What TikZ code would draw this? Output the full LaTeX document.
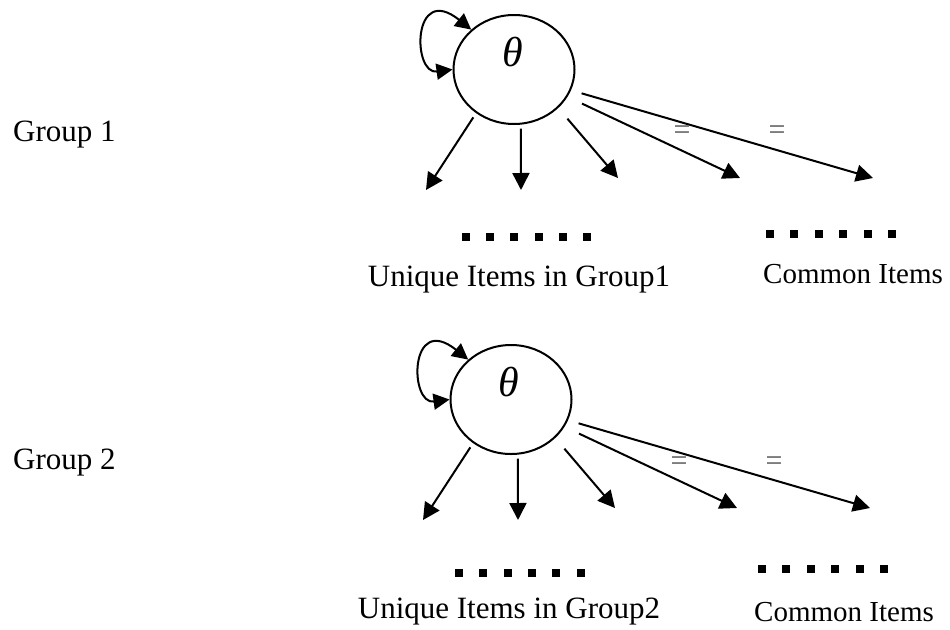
\documentclass[tikz,border=0pt]{standalone}
\usepackage{fontspec}
\setmainfont{Liberation Serif}
\usetikzlibrary{shapes.geometric,arrows.meta}
\begin{document}
\begin{tikzpicture}[x=1pt,y=-1pt,
  lat/.style={draw, line width=2pt, ellipse, minimum width=121pt, minimum height=109pt, inner sep=0pt},
  arr/.style={line width=2pt, -{Triangle[length=17pt,width=17pt]}},
  dbl/.style={line width=2pt, {Triangle[length=16pt,width=16pt]}-{Triangle[length=16pt,width=16pt]}},
  lbl/.style={font=\fontsize{31}{36}\selectfont, inner sep=0pt},
  cmn/.style={font=\fontsize{29}{34}\selectfont, inner sep=0pt},
  eqs/.style={font=\fontsize{30}{34}\selectfont, text=black!65, inner sep=0pt},
  sq/.style={fill=black, minimum size=8pt, inner sep=0pt, rectangle},
  th/.style={font=\fontsize{42}{48}\selectfont\itshape, inner sep=0pt}
]
\useasboundingbox (0,0) rectangle (950,629);

% ---------------- Group 1 ----------------
\node[lbl, anchor=base west] (grp1) at (13,141.7) {Group 1};
\node[lat] (g1) at (514,69.5) {};
\node[th] (t1) at (512.5,52.5) {θ};
\draw[dbl] (g1.180) .. controls (412,75) and (412,-18) .. (g1.137);

\coordinate (e1a) at (426,190);
\coordinate (e1b) at (521,190);
\coordinate (e1c) at (618,178);
\coordinate (e1d) at (740,178);
\coordinate (e1e) at (873,178);
\draw[arr, shorten <=5pt] (g1.229.2) -- (e1a);
\draw[arr, shorten <=4pt] (g1.277.2) -- (e1b);
\draw[arr, shorten <=14pt] (g1.319.2) -- (e1c);
\draw[arr, shorten <=16pt] (g1.333) -- (e1d);
\draw[arr, shorten <=11pt] (g1.340.9) -- (e1e);
\node[eqs] (q1a) at (682,133) {=};
\node[eqs] (q1b) at (777,133) {=};

\foreach \i in {0,...,5} {
  \node[sq] (u1d\i) at ({465.7+24.3*\i},237) {};
  \node[sq] (c1d\i) at ({770+24.4*\i},234) {};
}
\node[lbl, anchor=base] (u1) at (519,286) {Unique Items in Group1};
\node[cmn, anchor=base west] (c1) at (763,283) {Common Items};

% ---------------- Group 2 ----------------
\node[lbl, anchor=base west] (grp2) at (13,469) {Group 2};
\node[lat] (g2) at (511,399.5) {};
\node[th] (t2) at (509,382) {θ};
\draw[dbl] (g2.180) .. controls (409,405) and (409,312) .. (g2.137);

\coordinate (e2a) at (423,520);
\coordinate (e2b) at (518,520);
\coordinate (e2c) at (615,508);
\coordinate (e2d) at (737,508);
\coordinate (e2e) at (870,508);
\draw[arr, shorten <=5pt] (g2.229.2) -- (e2a);
\draw[arr, shorten <=4pt] (g2.277.2) -- (e2b);
\draw[arr, shorten <=14pt] (g2.319.2) -- (e2c);
\draw[arr, shorten <=16pt] (g2.333) -- (e2d);
\draw[arr, shorten <=11pt] (g2.340.9) -- (e2e);
\node[eqs] (q2a) at (679,464) {=};
\node[eqs] (q2b) at (774,464) {=};

\foreach \i in {0,...,5} {
  \node[sq] (u2d\i) at ({459+24.3*\i},573) {};
  \node[sq] (c2d\i) at ({762+24.4*\i},569) {};
}
\node[lbl, anchor=base] (u2) at (509,618) {Unique Items in Group2};
\node[cmn, anchor=base west] (c2) at (754,621.5) {Common Items};
\end{tikzpicture}
\end{document}
